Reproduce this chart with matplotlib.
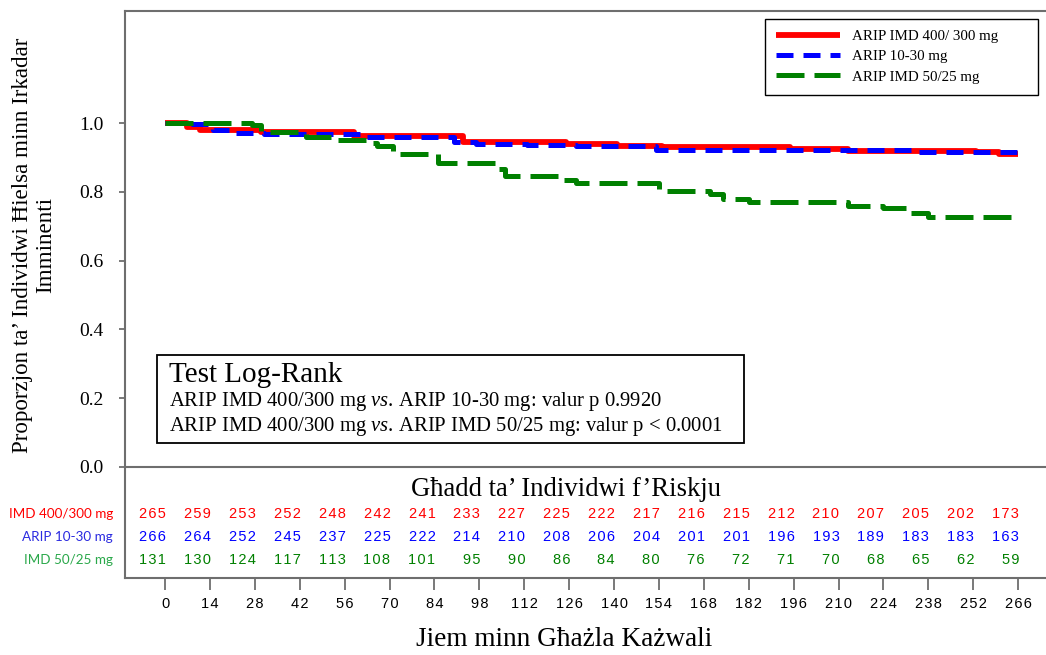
import numpy as np
import matplotlib.pyplot as plt
from matplotlib.patches import Rectangle

# Kaplan-Meier step data (day, proportion)
days_400 = [0, 7, 11, 30, 59, 93, 125, 141, 155, 195, 213, 253, 260, 266]
surv_400 = [1.0, 0.989, 0.980, 0.973, 0.963, 0.944, 0.938, 0.932, 0.929, 0.924, 0.920, 0.915, 0.909, 0.909]

days_oral = [0, 8, 15, 22, 31, 61, 90, 97, 113, 128, 153, 233, 266]
surv_oral = [1.0, 0.996, 0.980, 0.972, 0.967, 0.960, 0.946, 0.938, 0.936, 0.932, 0.922, 0.917, 0.917]

days_50 = [0, 27, 30, 44, 52, 63, 66, 71, 85, 104, 106, 123, 128, 154, 170, 174, 182, 213, 224, 232, 238, 266]
surv_50 = [1.0, 0.994, 0.973, 0.960, 0.951, 0.941, 0.934, 0.909, 0.885, 0.866, 0.845, 0.834, 0.825, 0.803,
           0.793, 0.780, 0.771, 0.758, 0.752, 0.737, 0.726, 0.726]

# number at risk
risk_days = np.arange(0, 267, 14)
risk_400 = [265, 259, 253, 252, 248, 242, 241, 233, 227, 225, 222, 217, 216, 215, 212, 210, 207, 205, 202, 173]
risk_oral = [266, 264, 252, 245, 237, 225, 222, 214, 210, 208, 206, 204, 201, 201, 196, 193, 189, 183, 183, 163]
risk_50 = [131, 130, 124, 117, 113, 108, 101, 95, 90, 86, 84, 80, 76, 72, 71, 70, 68, 65, 62, 59]

series_labels = ['ARIP IMD 400/ 300 mg', 'ARIP 10-30 mg', 'ARIP IMD 50/25 mg']
row_labels = ['IMD 400/300 mg', 'ARIP 10-30 mg', 'IMD 50/25 mg']

plt.rcParams['font.family'] = 'Liberation Serif'
plt.rcParams['mathtext.fontset'] = 'custom'
plt.rcParams['mathtext.rm'] = 'Liberation Serif'
plt.rcParams['mathtext.it'] = 'Liberation Serif:italic'

narrow = ['Liberation Sans', 'DejaVu Sans']
gray = '#6e6e6e'


def spaced(n):
    # digits drawn slightly apart, like the original table
    return '\u200a'.join(str(n))


fig = plt.figure(figsize=(10.46, 6.55), dpi=100)
ax = fig.add_axes([0.1195, 0.1176, 0.8805, 0.8656])

l1, = ax.plot(days_400, surv_400, drawstyle='steps-post', color='#ff0000', lw=4.2,
              solid_capstyle='butt', label=series_labels[0], zorder=3)
l2, = ax.plot(days_oral, surv_oral, drawstyle='steps-post', color='#0000ff', lw=3.6,
              dashes=(3.4, 2.0), label=series_labels[1], zorder=4)
l3, = ax.plot(days_50, surv_50, drawstyle='steps-post', color='#008000', lw=3.6,
              dashes=(5.6, 2.0), label=series_labels[2], zorder=5)

ax.set_xlim(-12.48, 274.7)
ax.set_ylim(-0.3227, 1.3256)
ax.axhline(0, color=gray, lw=1.5, zorder=1)

ax.set_yticks([0, 0.2, 0.4, 0.6, 0.8, 1.0])
ax.set_yticklabels(['0.0', '0.2', '0.4', '0.6', '0.8', '1.0'])
ax.tick_params(axis='y', direction='out', length=4.5, width=1.3, color=gray, pad=11, labelsize=14)

ax.set_xticks(risk_days)
ax.set_xticklabels([spaced(d) for d in risk_days], family=narrow, fontsize=10.5)
ax.tick_params(axis='x', direction='out', length=8.6, width=1.3, color=gray, pad=5)

for side in ['left', 'top', 'bottom']:
    ax.spines[side].set_color(gray)
    ax.spines[side].set_linewidth(1.5)
ax.spines['right'].set_visible(False)

# legend
ax.legend(handles=[l1, l2, l3], loc='upper left', bbox_to_anchor=(0.695, 0.986, 0.2965, 0.0),
          mode='expand', borderaxespad=0, fontsize=10.8, handlelength=4.3, handletextpad=0.8,
          labelspacing=0.45, borderpad=0.72, frameon=True, fancybox=False, edgecolor='black',
          framealpha=1)
ax.get_legend().get_frame().set_linewidth(1.0)

# log-rank box
ax.add_patch(Rectangle((-2.5, 0.0698), 183.0, 0.2558, fill=False, edgecolor='black', lw=1.3, zorder=6))
ax.text(1.2, 0.267, 'Test Log-Rank', fontsize=21, ha='left', va='center', zorder=7)
ax.text(1.2, 0.190, r'ARIP IMD 400/300 mg $\mathit{vs.}\,$ARIP 10-30 mg: valur p 0.9920',
        fontsize=14.9, ha='left', va='center', zorder=7)
ax.text(1.2, 0.117, r'ARIP IMD 400/300 mg $\mathit{vs.}\,$ARIP IMD 50/25 mg: valur p < 0.0001',
        fontsize=14.9, ha='left', va='center', zorder=7)

# risk table
fig.text(0.541, 1 - 490 / 655, 'Għadd ta’ Individwi f’Riskju', fontsize=19.2, ha='center', va='center')
row_y = [-0.1366, -0.2035, -0.2703]
num_colors = ['#ff0000', '#0000ff', '#008000']
lab_colors = ['#ff0000', '#2a2ae0', '#2aa84a']
for row, y, nc, lc, lab in zip([risk_400, risk_oral, risk_50], row_y, num_colors, lab_colors, row_labels):
    for d, n in zip(risk_days, row):
        ax.text(d + 0.3, y, spaced(n), family=narrow, fontsize=10.5, color=nc,
                ha='right', va='center')
    ax.text(-16.2, y, lab, family='Lato', fontsize=9.7, color=lc, ha='right', va='center', clip_on=False)

fig.text(0.0325, 0.626, 'Proporzjon ta’ Individwi Ħielsa minn Irkadar\nImminenti', rotation=90,
         fontsize=16.6, ha='center', va='center', multialignment='center', linespacing=1.12)
fig.text(0.539, 1 - 640 / 655, 'Jiem minn Għażla Każwali', fontsize=19.6, ha='center', va='center')

fig.savefig('out.png', dpi=100)
